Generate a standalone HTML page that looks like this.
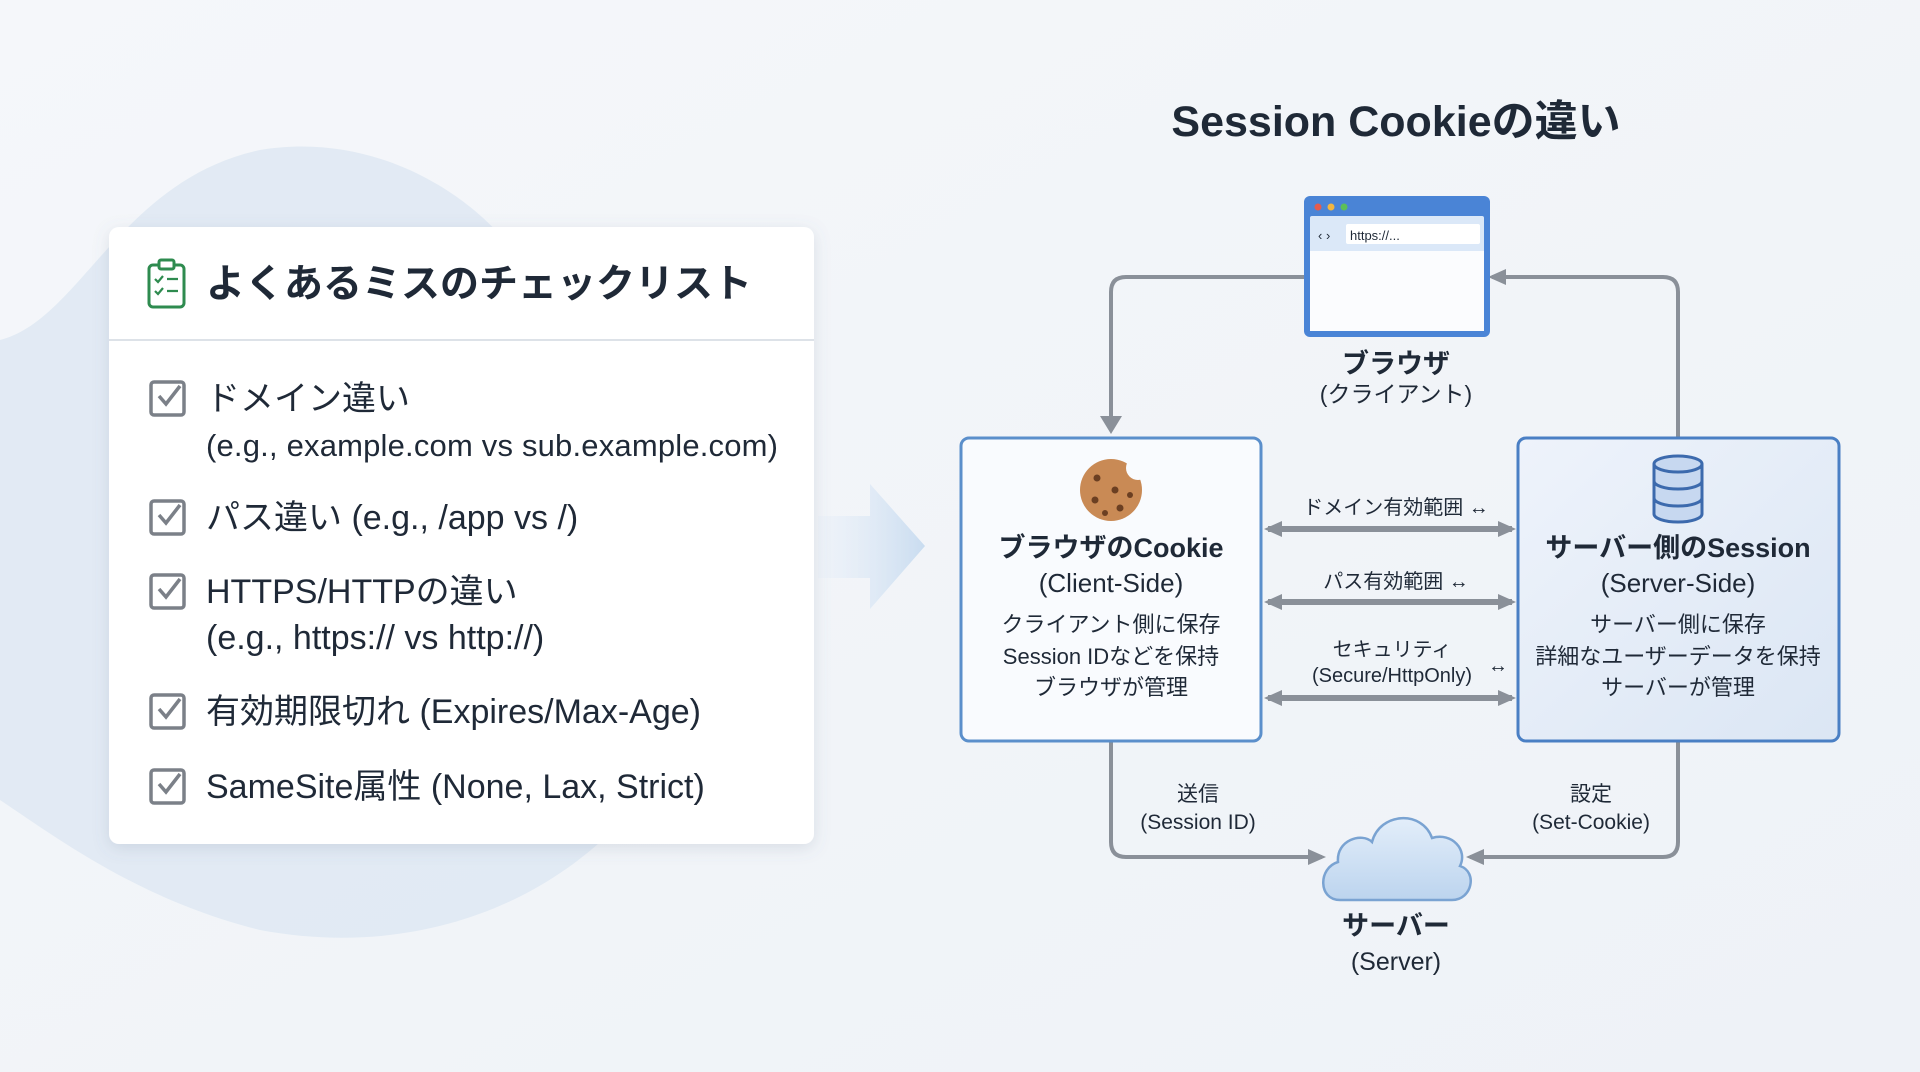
<!DOCTYPE html>
<html><head><meta charset="utf-8"><style>
html,body{margin:0;padding:0;width:1920px;height:1072px;overflow:hidden;background:#f1f5f9}
svg{display:block}
text{font-family:"Liberation Sans","Noto Sans CJK JP",sans-serif;fill:#1f2937}
</style></head><body>
<svg width="1920" height="1072" viewBox="0 0 1920 1072" xmlns="http://www.w3.org/2000/svg">
<defs>
<linearGradient id="bg" x1="0" y1="0" x2="1" y2="1"><stop offset="0" stop-color="#f5f7fa"/><stop offset="1" stop-color="#eef2f7"/></linearGradient>
<linearGradient id="ar" x1="0" y1="0" x2="1" y2="0"><stop offset="0" stop-color="#e6eef8" stop-opacity="0.3"/><stop offset="1" stop-color="#c9dcf0"/></linearGradient>
<linearGradient id="rb" x1="0" y1="0" x2="1" y2="1"><stop offset="0" stop-color="#eef3fb"/><stop offset="1" stop-color="#dbe6f4"/></linearGradient>
<linearGradient id="cl" x1="0" y1="0" x2="0" y2="1"><stop offset="0" stop-color="#e3eefa"/><stop offset="1" stop-color="#bcd4ee"/></linearGradient>
<marker id="ah" markerWidth="18" markerHeight="18" refX="14" refY="9" orient="auto-start-reverse" markerUnits="userSpaceOnUse"><path d="M0,1 L18,9 L0,17 z" fill="#8a9099"/></marker>
<filter id="sh" x="-10%" y="-10%" width="120%" height="120%"><feDropShadow dx="0" dy="4" stdDeviation="8" flood-color="#64748b" flood-opacity="0.18"/></filter>
</defs>
<rect width="1920" height="1072" fill="url(#bg)"/>
<path d="M0,340 C80,320 120,180 260,150 C380,130 480,200 520,260 L640,800 C560,900 420,960 260,930 C140,900 60,840 0,800 Z" fill="#dde7f2" opacity="0.8"/>
<path d="M818,516 L870,516 L870,484 L925,546 L870,609 L870,578 L818,578 Z" fill="url(#ar)"/>
<text x="1396" y="136" text-anchor="middle" font-size="43" font-weight="bold" fill="#1e2a38">Session Cookieの違い</text>
<rect x="109" y="227" width="705" height="617" rx="10" fill="#ffffff" filter="url(#sh)"/>
<line x1="109" y1="340" x2="814" y2="340" stroke="#dde2e8" stroke-width="2"/>
<g transform="translate(147,259)" stroke="#2e8b4f" stroke-width="3" fill="none">
<rect x="2" y="6" width="35" height="42" rx="4"/>
<rect x="12" y="1" width="15" height="9" rx="2" fill="#fff"/>
<path d="M8,20 l3,3 l5,-6 M20,20 h11 M8,32 l3,3 l5,-6 M20,32 h11" stroke-width="2.2"/>
</g>
<text x="206" y="297" font-size="39" font-weight="bold" fill="#1e2a38">よくあるミスのチェックリスト</text>
<g stroke="#7b8088" stroke-width="3.5" fill="none">
<rect x="151" y="382" width="33" height="33" rx="3"/><path d="M159,396 l7,8 l14,-18"/>
<rect x="151" y="501" width="33" height="33" rx="3"/><path d="M159,515 l7,8 l14,-18"/>
<rect x="151" y="575" width="33" height="33" rx="3"/><path d="M159,589 l7,8 l14,-18"/>
<rect x="151" y="695" width="33" height="33" rx="3"/><path d="M159,709 l7,8 l14,-18"/>
<rect x="151" y="770" width="33" height="33" rx="3"/><path d="M159,784 l7,8 l14,-18"/>
</g>
<g font-size="34" fill="#1e2530">
<text x="206" y="410">ドメイン違い</text>
<text x="206" y="456" font-size="31" textLength="572">(e.g., example.com vs sub.example.com)</text>
<text x="206" y="529">パス違い (e.g., /app vs /)</text>
<text x="206" y="603">HTTPS/HTTPの違い</text>
<text x="206" y="649">(e.g., https:// vs http://)</text>
<text x="206" y="723">有効期限切れ (Expires/Max-Age)</text>
<text x="206" y="798">SameSite属性 (None, Lax, Strict)</text>
</g>
<g stroke="#8a9099" stroke-width="4" fill="none">
<path d="M1678,438 V292 Q1678,277 1663,277 H1492" marker-end="url(#ah)"/>
<path d="M1111,741 V842 Q1111,857 1126,857 H1322" marker-end="url(#ah)"/>
<path d="M1678,741 V842 Q1678,857 1663,857 H1470" marker-end="url(#ah)"/>
</g>
<g stroke="#8a9099" stroke-width="6" fill="none">
<path d="M1268,529 H1512" marker-start="url(#ah)" marker-end="url(#ah)"/>
<path d="M1268,602 H1512" marker-start="url(#ah)" marker-end="url(#ah)"/>
<path d="M1268,698 H1512" marker-start="url(#ah)" marker-end="url(#ah)"/>
</g>
<path d="M1304,277 H1126 Q1111,277 1111,292 V420" stroke="#8a9099" stroke-width="4" fill="none"/>
<path d="M1100,416 L1111,434 L1122,416 Z" fill="#8a9099"/>
<rect x="1304" y="196" width="186" height="141" rx="6" fill="#4a84d6"/>
<rect x="1310" y="216" width="174" height="115" rx="2" fill="#dbe8f8"/>
<rect x="1310" y="251" width="174" height="80" fill="#fbfcfe"/>
<circle cx="1318" cy="207" r="3.5" fill="#e55b4d"/><circle cx="1331" cy="207" r="3.5" fill="#f2b640"/><circle cx="1344" cy="207" r="3.5" fill="#5cbf5a"/>
<rect x="1346" y="224" width="134" height="20" rx="2" fill="#fff"/>
<text x="1350" y="240" font-size="13" fill="#333">https://...</text>
<text x="1318" y="240" font-size="13" fill="#8aa">‹ ›</text>
<text x="1396" y="373" text-anchor="middle" font-size="27" font-weight="bold">ブラウザ</text>
<text x="1396" y="402" text-anchor="middle" font-size="23">(クライアント)</text>
<rect x="961" y="438" width="300" height="303" rx="8" fill="#f9fbfe" stroke="#5b8fcb" stroke-width="3"/>
<circle cx="1111" cy="490" r="31" fill="#c98a55"/>
<circle cx="1138" cy="468" r="12" fill="#f9fbfe"/>
<g fill="#6b3f22"><circle cx="1097" cy="478" r="3.5"/><circle cx="1115" cy="490" r="3.5"/><circle cx="1095" cy="500" r="3.5"/><circle cx="1120" cy="508" r="3.5"/><circle cx="1105" cy="513" r="3"/><circle cx="1130" cy="495" r="3"/></g>
<text x="1111" y="557" text-anchor="middle" font-size="27" font-weight="bold">ブラウザのCookie</text>
<text x="1111" y="592" text-anchor="middle" font-size="26">(Client-Side)</text>
<g font-size="22" text-anchor="middle">
<text x="1111" y="632">クライアント側に保存</text>
<text x="1111" y="664">Session IDなどを保持</text>
<text x="1111" y="695">ブラウザが管理</text>
</g>
<rect x="1518" y="438" width="321" height="303" rx="8" fill="url(#rb)" stroke="#4a7fc4" stroke-width="3"/>
<g transform="translate(1678,490)" fill="#c7d8f0" stroke="#3c6aad" stroke-width="3">
<path d="M-24,-26 V24 A24,8 0 0 0 24,24 V-26"/>
<ellipse cx="0" cy="-26" rx="24" ry="8"/>
<path d="M-24,-9 A24,8 0 0 0 24,-9 M-24,8 A24,8 0 0 0 24,8" fill="none"/>
</g>
<text x="1678" y="557" text-anchor="middle" font-size="27" font-weight="bold">サーバー側のSession</text>
<text x="1678" y="592" text-anchor="middle" font-size="26">(Server-Side)</text>
<g font-size="22" text-anchor="middle">
<text x="1678" y="632">サーバー側に保存</text>
<text x="1678" y="664">詳細なユーザーデータを保持</text>
<text x="1678" y="695">サーバーが管理</text>
</g>
<g font-size="20" text-anchor="middle">
<text x="1396" y="514">ドメイン有効範囲 ↔</text>
<text x="1396" y="588">パス有効範囲 ↔</text>
<text x="1392" y="656">セキュリティ</text>
<text x="1392" y="682">(Secure/HttpOnly)</text>
<text x="1498" y="672">↔</text>
</g>
<path d="M1340,900 C1318,900 1318,868 1338,862 C1336,840 1362,832 1372,842 C1380,812 1422,810 1432,838 C1452,832 1468,850 1460,866 C1478,872 1472,900 1452,900 Z" fill="url(#cl)" stroke="#7aa3d2" stroke-width="2.5"/>
<text x="1396" y="935" text-anchor="middle" font-size="27" font-weight="bold">サーバー</text>
<text x="1396" y="970" text-anchor="middle" font-size="25">(Server)</text>
<g font-size="21" text-anchor="middle">
<text x="1198" y="801">送信</text>
<text x="1198" y="829">(Session ID)</text>
<text x="1591" y="801">設定</text>
<text x="1591" y="829">(Set-Cookie)</text>
</g>
</svg>
</body></html>
